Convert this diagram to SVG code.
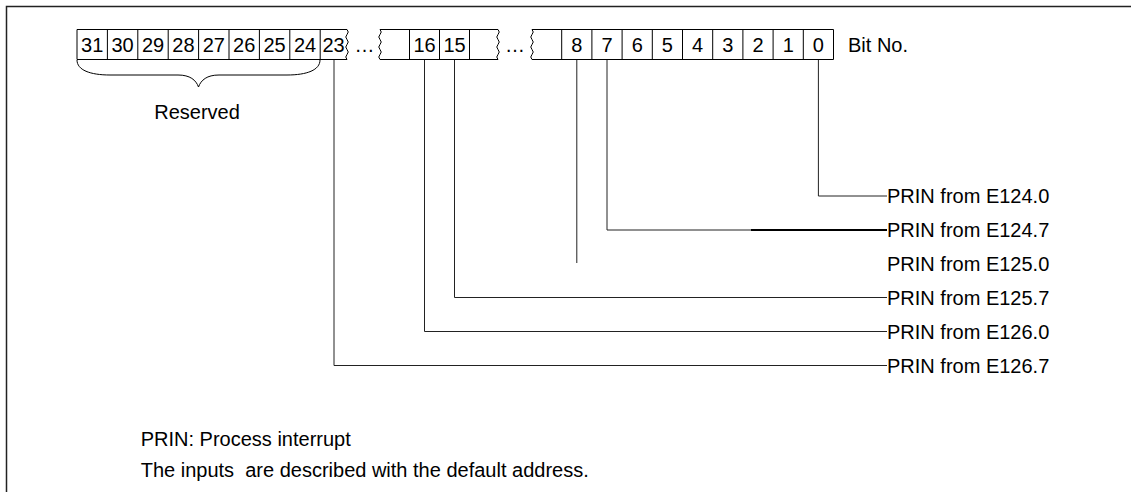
<svg xmlns="http://www.w3.org/2000/svg" width="1131" height="492" viewBox="0 0 1131 492">
<style>
text{font-family:"Liberation Sans",Arial,sans-serif;font-size:20px;fill:#000}
.d{text-anchor:middle}
.b{fill:none;stroke:#000;stroke-width:1}
.c{fill:none;stroke:#222;stroke-width:1}
</style>
<rect width="1131" height="492" fill="#fff"/>
<path d="M6.5,492 V6.5 H1131" fill="none" stroke="#222" stroke-width="1.5"/>
<g id="register">
<g id="cells-31-23">
<path class="b" d="M347,29.5 H77 V59.5 H347"/>
<path class="b" d="M107.4,29.5V59.5 M137.8,29.5V59.5 M168.2,29.5V59.5 M198.6,29.5V59.5 M229,29.5V59.5 M259.4,29.5V59.5 M289.8,29.5V59.5 M320.2,29.5V59.5"/>
<path class="b" d="M347,29.5 q2.5,2.5 0,5 q-2.5,2.5 0,5 q2.5,2.5 0,5 q-2.5,2.5 0,5 q2.5,2.5 0,5 q-2.5,2.5 0,5"/>
<text class="d" x="92.2" y="52">31</text>
<text class="d" x="122.6" y="52">30</text>
<text class="d" x="153" y="52">29</text>
<text class="d" x="183.4" y="52">28</text>
<text class="d" x="213.8" y="52">27</text>
<text class="d" x="244.2" y="52">26</text>
<text class="d" x="274.6" y="52">25</text>
<text class="d" x="305" y="52">24</text>
<text class="d" x="333.6" y="52">23</text>
</g>
<text class="d" x="364.5" y="52">…</text>
<g id="cells-16-15">
<path class="b" d="M380,29.5 H498 M380,59.5 H498 M409.5,29.5V59.5 M439.5,29.5V59.5 M469.5,29.5V59.5"/>
<path class="b" d="M380,29.5 q2.5,2.5 0,5 q-2.5,2.5 0,5 q2.5,2.5 0,5 q-2.5,2.5 0,5 q2.5,2.5 0,5 q-2.5,2.5 0,5"/>
<path class="b" d="M498,29.5 q2.5,2.5 0,5 q-2.5,2.5 0,5 q2.5,2.5 0,5 q-2.5,2.5 0,5 q2.5,2.5 0,5 q-2.5,2.5 0,5"/>
<text class="d" x="424.5" y="52">16</text>
<text class="d" x="454.5" y="52">15</text>
</g>
<text class="d" x="515" y="52">…</text>
<g id="cells-8-0">
<path class="b" d="M532,29.5 H833.5 V59.5 H532"/>
<path class="b" d="M561.7,29.5V59.5 M591.9,29.5V59.5 M622.1,29.5V59.5 M652.3,29.5V59.5 M682.5,29.5V59.5 M712.7,29.5V59.5 M742.9,29.5V59.5 M773.1,29.5V59.5 M803.3,29.5V59.5"/>
<path class="b" d="M532,29.5 q2.5,2.5 0,5 q-2.5,2.5 0,5 q2.5,2.5 0,5 q-2.5,2.5 0,5 q2.5,2.5 0,5 q-2.5,2.5 0,5"/>
<text class="d" x="576.8" y="52">8</text>
<text class="d" x="607" y="52">7</text>
<text class="d" x="637.2" y="52">6</text>
<text class="d" x="667.4" y="52">5</text>
<text class="d" x="697.6" y="52">4</text>
<text class="d" x="727.8" y="52">3</text>
<text class="d" x="758" y="52">2</text>
<text class="d" x="788.2" y="52">1</text>
<text class="d" x="818.4" y="52">0</text>
</g>
<text x="848" y="52">Bit No.</text>
</g>
<g id="reserved">
<path class="b" d="M77,60 C77,70 90,75 110,75 L178,75 C190,75 196,80 198.5,87 C201,80 207,75 219,75 L287,75 C307,75 320,70 320,60"/>
<text class="d" x="197" y="119">Reserved</text>
</g>
<g id="connectors">
<path class="c" d="M818.4,60 V196 H887"/>
<path class="c" d="M607,60 V230 H751"/>
<path fill="none" stroke="#000" stroke-width="2" d="M751,230 H887"/>
<path class="c" d="M576.8,60 V263"/>
<path class="c" d="M454.5,60 V297.5 H887"/>
<path class="c" d="M424.5,60 V331.5 H887"/>
<path class="c" d="M334,60 V365.5 H887"/>
</g>
<g id="labels">
<text x="887" y="203.3">PRIN from E124.0</text>
<text x="887" y="237.3">PRIN from E124.7</text>
<text x="887" y="271">PRIN from E125.0</text>
<text x="887" y="304.8">PRIN from E125.7</text>
<text x="887" y="338.8">PRIN from E126.0</text>
<text x="887" y="372.8">PRIN from E126.7</text>
</g>
<g id="notes">
<text x="140.7" y="446">PRIN: Process interrupt</text>
<text x="140.7" y="477" xml:space="preserve">The inputs  are described with the default address.</text>
</g>
</svg>
